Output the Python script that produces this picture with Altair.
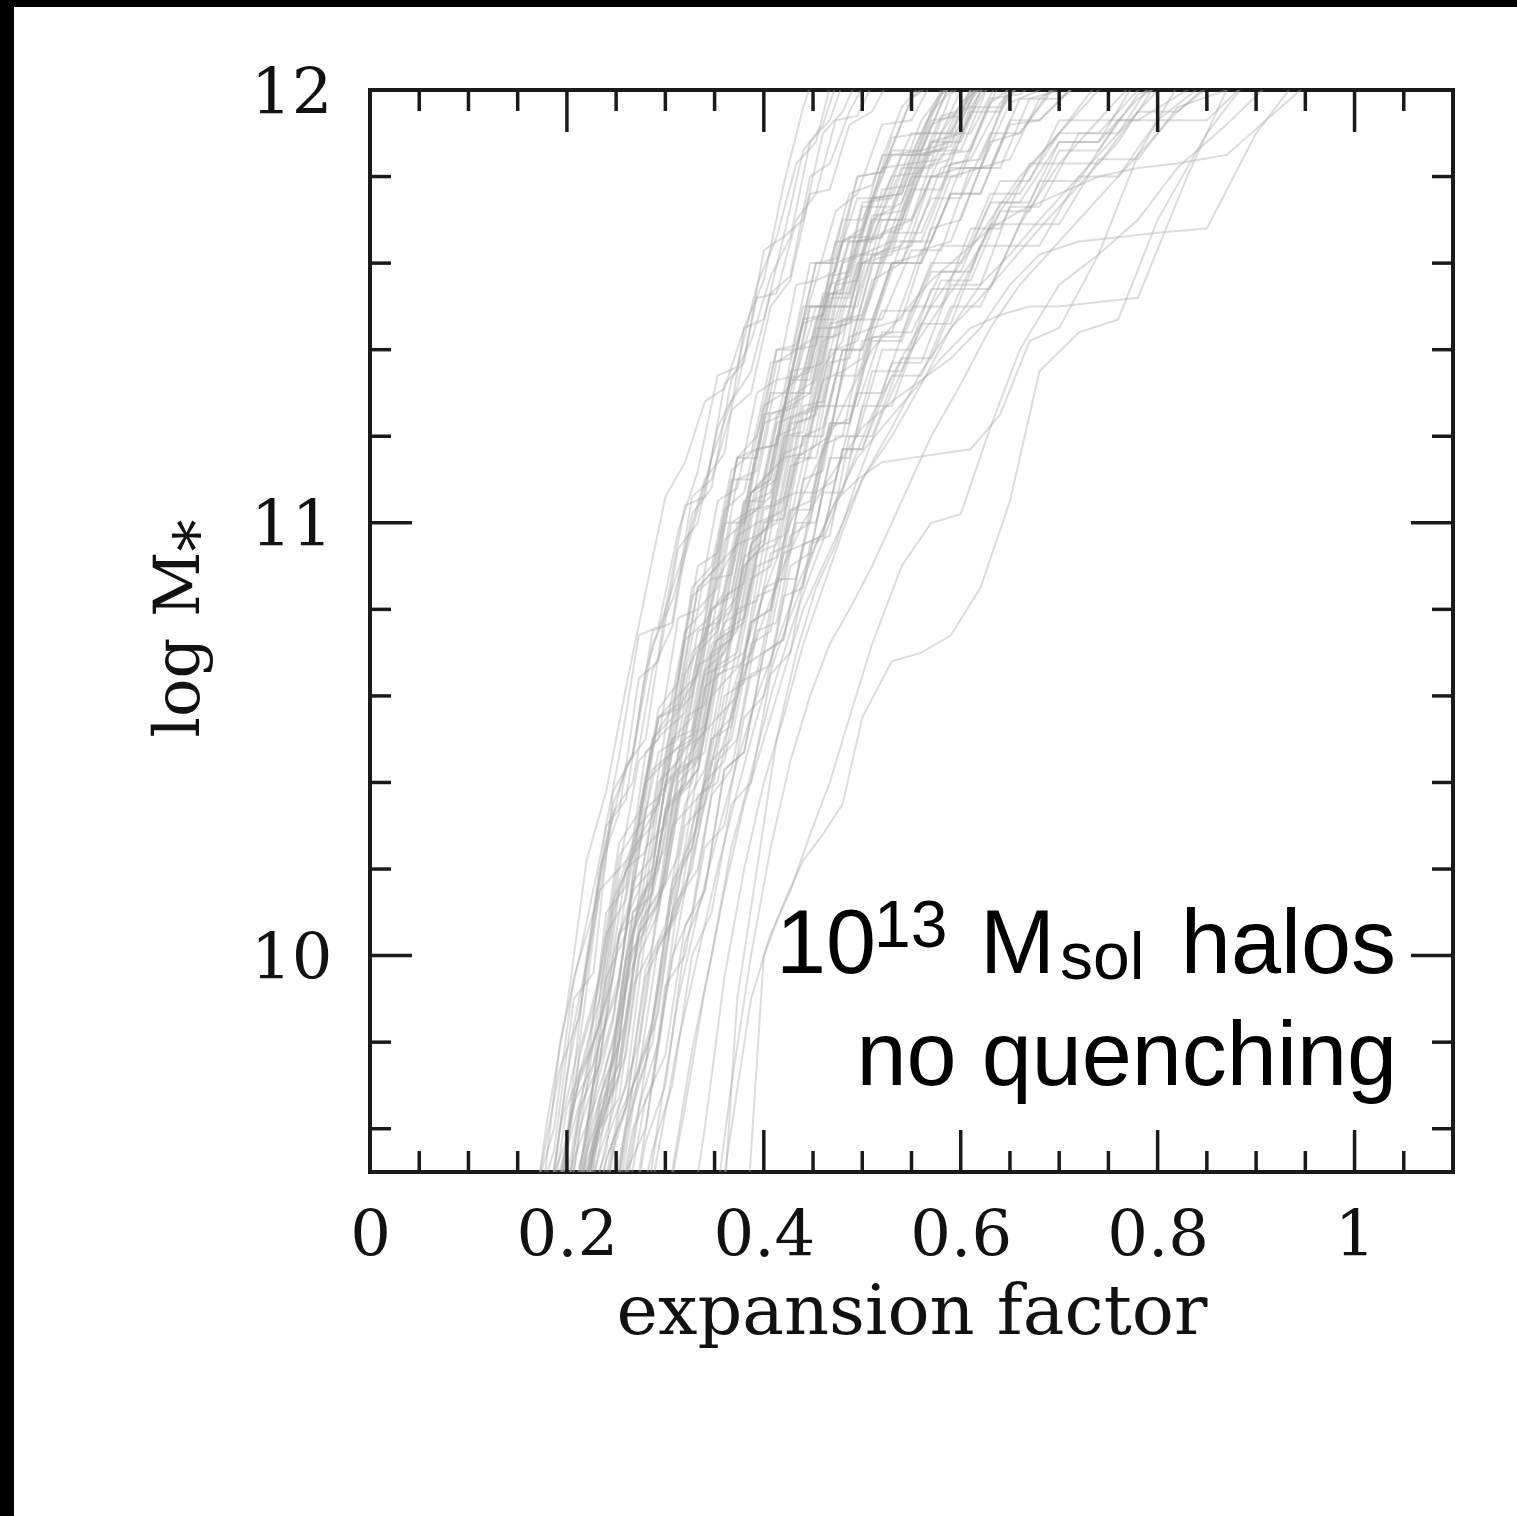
import altair as alt
import pandas as pd

# Snapshot expansion factors; tracks alternate between three output schedules
GRID_0 = [0.160, 0.180, 0.200, 0.220, 0.240, 0.260, 0.280, 0.300, 0.320, 0.340,
          0.360, 0.380, 0.400, 0.420, 0.440, 0.460, 0.480, 0.500, 0.530, 0.560,
          0.590, 0.620, 0.650, 0.680, 0.720, 0.760, 0.800, 0.850, 0.900, 0.950, 1.000]
GRID_1 = [0.167, 0.187, 0.207, 0.227, 0.247, 0.267, 0.287, 0.307, 0.327, 0.347,
          0.367, 0.387, 0.407, 0.427, 0.447, 0.467, 0.487, 0.510, 0.540, 0.570,
          0.600, 0.630, 0.660, 0.700, 0.740, 0.780, 0.820, 0.870, 0.920, 0.970, 1.020]
GRID_2 = [0.153, 0.173, 0.193, 0.213, 0.233, 0.253, 0.273, 0.293, 0.313, 0.333,
          0.353, 0.373, 0.393, 0.413, 0.433, 0.453, 0.473, 0.495, 0.520, 0.550,
          0.580, 0.610, 0.640, 0.670, 0.700, 0.740, 0.780, 0.830, 0.880, 0.930, 0.980]
GRIDS = [GRID_0, GRID_1, GRID_2]

# Each track: (index of its first snapshot, log M* at successive snapshots)
TRACKS = [
    # early risers
    (0, [9.3, 9.62, 9.88, 10.22, 10.38, 10.62, 10.84, 11.06, 11.14, 11.28, 11.31, 11.45, 11.56, 11.78, 11.96, 12.1]),
    (0, [9.35, 9.5, 9.84, 10.06, 10.33, 10.4, 10.66, 10.76, 11.02, 11.08, 11.33, 11.42, 11.57, 11.66, 11.88, 11.93, 12.06]),
    (1, [9.4, 9.8, 10.0, 10.22, 10.46, 10.74, 10.76, 10.98, 11.12, 11.34, 11.36, 11.55, 11.66, 11.83, 11.88, 12.06]),
    (1, [9.45, 9.58, 10.0, 10.26, 10.44, 10.5, 10.8, 10.94, 11.1, 11.16, 11.45, 11.47, 11.66, 11.7, 11.9, 11.95, 12.05]),
    (0, [9.4, 9.55, 9.9, 9.96, 10.38, 10.46, 10.72, 10.82, 10.98, 11.15, 11.28, 11.35, 11.53, 11.57, 11.8, 11.83, 11.95, 12.05]),
    (1, [9.5, 9.74, 9.86, 10.2, 10.33, 10.64, 10.68, 10.94, 11.0, 11.22, 11.31, 11.52, 11.53, 11.7, 11.76, 11.93, 11.94, 12.06]),
    (1, [9.38, 9.72, 9.96, 10.3, 10.36, 10.66, 10.8, 11.04, 11.06, 11.32, 11.37, 11.63, 11.66, 11.86, 11.92, 12.06]),
    (0, [9.45, 9.6, 9.95, 10.1, 10.35, 10.47, 10.75, 10.77, 11.06, 11.1, 11.26, 11.3, 11.5, 11.56, 11.76, 11.77, 11.92, 11.95, 12.08]),
    # main bundle
    (1, [9.3, 9.6, 9.8, 10.15, 10.2, 10.45, 10.5, 10.78, 10.8, 11.05, 11.08, 11.3, 11.33, 11.55, 11.56, 11.72, 11.76, 11.92, 11.93, 12.06]),
    (2, [9.4, 9.58, 9.95, 10.05, 10.34, 10.38, 10.65, 10.74, 10.96, 11.0, 11.25, 11.26, 11.46, 11.48, 11.65, 11.68, 11.89, 11.9, 12.03]),
    (2, [9.3, 9.55, 9.76, 10.1, 10.17, 10.4, 10.45, 10.7, 10.8, 11.03, 11.04, 11.27, 11.3, 11.52, 11.52, 11.7, 11.74, 11.92, 11.95, 12.06]),
    (1, [9.35, 9.46, 9.78, 9.95, 10.26, 10.33, 10.55, 10.58, 10.85, 10.9, 11.15, 11.15, 11.37, 11.4, 11.6, 11.61, 11.8, 11.81, 11.98, 12.03]),
    (2, [9.45, 9.74, 9.9, 10.2, 10.24, 10.52, 10.56, 10.77, 10.84, 11.05, 11.1, 11.3, 11.35, 11.52, 11.54, 11.74, 11.75, 11.93, 12.02]),
    (2, [9.35, 9.65, 9.8, 10.1, 10.14, 10.35, 10.4, 10.65, 10.73, 10.95, 11.0, 11.23, 11.24, 11.45, 11.46, 11.66, 11.68, 11.88, 11.9, 12.02, 12.05]),
    (2, [9.4, 9.5, 9.8, 9.93, 10.3, 10.35, 10.57, 10.65, 10.87, 10.95, 11.17, 11.18, 11.4, 11.41, 11.6, 11.62, 11.82, 11.83, 11.99, 12.04]),
    (2, [9.3, 9.52, 9.66, 9.99, 10.06, 10.34, 10.4, 10.62, 10.66, 10.9, 10.95, 11.2, 11.21, 11.42, 11.44, 11.6, 11.64, 11.82, 11.84, 12.0, 12.05]),
    (1, [9.4, 9.66, 9.75, 10.1, 10.25, 10.5, 10.55, 10.85, 10.9, 11.12, 11.16, 11.37, 11.38, 11.6, 11.6, 11.76, 11.78, 11.96, 12.04]),
    (2, [9.5, 9.72, 9.84, 10.17, 10.3, 10.55, 10.6, 10.85, 10.9, 11.15, 11.2, 11.4, 11.41, 11.56, 11.58, 11.8, 11.81, 11.98, 12.05]),
    (2, [9.3, 9.5, 9.62, 9.95, 10.1, 10.4, 10.45, 10.66, 10.7, 10.92, 10.96, 11.16, 11.18, 11.36, 11.42, 11.62, 11.65, 11.86, 11.88, 12.02]),
    (2, [9.38, 9.62, 9.77, 10.06, 10.15, 10.43, 10.5, 10.72, 10.75, 11.02, 11.06, 11.24, 11.26, 11.46, 11.47, 11.62, 11.64, 11.8, 11.82, 11.97, 12.02]),
    (3, [9.4, 9.67, 9.8, 10.13, 10.2, 10.47, 10.5, 10.77, 10.83, 11.07, 11.1, 11.3, 11.33, 11.55, 11.56, 11.77, 11.78, 11.94, 11.96, 12.06]),
    (3, [9.45, 9.75, 9.92, 10.25, 10.3, 10.55, 10.58, 10.83, 10.86, 11.1, 11.15, 11.35, 11.37, 11.6, 11.62, 11.8, 11.81, 11.99, 12.05]),
    (2, [9.25, 9.5, 9.64, 9.93, 10.02, 10.3, 10.35, 10.6, 10.65, 10.87, 10.9, 11.13, 11.15, 11.37, 11.38, 11.56, 11.6, 11.8, 11.8, 11.98, 11.99, 12.06]),
    (3, [9.3, 9.6, 9.72, 10.05, 10.12, 10.37, 10.43, 10.7, 10.75, 10.97, 11.0, 11.23, 11.25, 11.45, 11.47, 11.67, 11.7, 11.9, 11.9, 12.03, 12.05]),
    (1, [9.25, 9.55, 9.72, 10.1, 10.16, 10.47, 10.52, 10.75, 10.8, 11.03, 11.07, 11.27, 11.3, 11.5, 11.5, 11.7, 11.7, 11.85, 11.86, 12.02]),
    (2, [9.42, 9.7, 9.86, 10.15, 10.2, 10.5, 10.52, 10.8, 10.84, 11.07, 11.12, 11.35, 11.36, 11.55, 11.57, 11.75, 11.76, 11.93, 11.94, 12.04]),
    (3, [9.35, 9.63, 9.75, 10.07, 10.14, 10.43, 10.46, 10.73, 10.76, 11.0, 11.02, 11.25, 11.27, 11.5, 11.5, 11.7, 11.7, 11.85, 11.86, 12.02, 12.04]),
    (3, [9.42, 9.55, 9.93, 10.07, 10.33, 10.4, 10.65, 10.67, 10.9, 10.95, 11.15, 11.16, 11.33, 11.35, 11.6, 11.62, 11.85, 11.87, 12.03]),
    (2, [9.3, 9.57, 9.7, 10.05, 10.17, 10.41, 10.45, 10.7, 10.73, 10.95, 11.0, 11.2, 11.2, 11.4, 11.4, 11.6, 11.6, 11.75, 11.75, 11.9, 11.9, 12.02]),
    (3, [9.48, 9.8, 9.95, 10.27, 10.35, 10.6, 10.65, 10.9, 10.95, 11.17, 11.18, 11.4, 11.43, 11.65, 11.65, 11.85, 11.85, 12.0, 12.06]),
    (2, [9.32, 9.55, 9.67, 10.0, 10.15, 10.45, 10.5, 10.75, 10.8, 11.05, 11.05, 11.27, 11.3, 11.53, 11.53, 11.73, 11.73, 11.9, 11.9, 12.03]),
    (3, [9.3, 9.55, 9.7, 10.0, 10.07, 10.35, 10.4, 10.65, 10.7, 10.93, 10.95, 11.17, 11.2, 11.43, 11.45, 11.65, 11.65, 11.82, 11.82, 11.98, 11.98, 12.05]),
    (2, [9.45, 9.73, 9.9, 10.2, 10.25, 10.47, 10.5, 10.75, 10.77, 11.0, 11.03, 11.25, 11.27, 11.47, 11.47, 11.65, 11.66, 11.83, 11.84, 12.0, 12.04]),
    (1, [9.35, 9.65, 9.77, 10.05, 10.13, 10.4, 10.45, 10.73, 10.77, 11.0, 11.0, 11.23, 11.25, 11.47, 11.48, 11.65, 11.67, 11.86, 11.86, 12.02, 12.05]),
    (2, [9.5, 9.8, 9.95, 10.25, 10.3, 10.55, 10.6, 10.87, 10.88, 11.07, 11.1, 11.33, 11.33, 11.53, 11.53, 11.71, 11.72, 11.88, 11.88, 12.05]),
    (2, [9.28, 9.6, 9.75, 10.05, 10.1, 10.37, 10.43, 10.67, 10.7, 10.95, 10.97, 11.2, 11.22, 11.43, 11.43, 11.6, 11.6, 11.77, 11.77, 11.95, 11.95, 12.05]),
    (3, [9.38, 9.65, 9.77, 10.1, 10.17, 10.45, 10.52, 10.77, 10.8, 11.03, 11.05, 11.27, 11.28, 11.47, 11.48, 11.67, 11.67, 11.83, 11.84, 12.0, 12.03]),
    (1, [9.3, 9.53, 9.65, 10.0, 10.15, 10.43, 10.47, 10.7, 10.75, 11.0, 11.03, 11.25, 11.27, 11.5, 11.5, 11.66, 11.66, 11.82, 11.82, 11.97, 12.02]),
    (2, [9.35, 9.63, 9.8, 10.15, 10.27, 10.55, 10.57, 10.8, 10.85, 11.1, 11.12, 11.33, 11.34, 11.5, 11.5, 11.65, 11.66, 11.85, 11.86, 12.0, 12.04]),
    (3, [9.45, 9.7, 9.85, 10.15, 10.25, 10.5, 10.53, 10.75, 10.78, 11.0, 11.03, 11.25, 11.27, 11.47, 11.47, 11.65, 11.65, 11.82, 11.82, 11.97, 12.0, 12.05]),
    (2, [9.3, 9.55, 9.7, 10.07, 10.2, 10.5, 10.55, 10.8, 10.83, 11.07, 11.1, 11.33, 11.35, 11.57, 11.58, 11.75, 11.76, 11.95, 12.02]),
    (2, [9.4, 9.65, 9.75, 10.05, 10.15, 10.4, 10.45, 10.7, 10.75, 10.97, 11.0, 11.23, 11.25, 11.45, 11.45, 11.62, 11.62, 11.8, 11.8, 11.96, 11.96, 12.04]),
    (3, [9.35, 9.57, 9.7, 10.05, 10.17, 10.43, 10.47, 10.73, 10.77, 11.0, 11.01, 11.2, 11.22, 11.4, 11.4, 11.6, 11.6, 11.76, 11.76, 11.92, 11.93, 12.02]),
    (1, [9.4, 9.67, 9.8, 10.13, 10.23, 10.5, 10.57, 10.83, 10.87, 11.1, 11.1, 11.3, 11.3, 11.5, 11.5, 11.65, 11.65, 11.85, 11.85, 12.0, 12.05]),
    (2, [9.45, 9.77, 9.93, 10.23, 10.3, 10.57, 10.63, 10.9, 10.93, 11.15, 11.17, 11.4, 11.4, 11.6, 11.6, 11.75, 11.75, 11.9, 11.9, 12.0, 12.05]),
    (3, [9.3, 9.53, 9.65, 9.97, 10.07, 10.35, 10.43, 10.67, 10.7, 10.95, 10.97, 11.2, 11.2, 11.4, 11.4, 11.6, 11.6, 11.76, 11.76, 11.93, 11.93, 12.02]),
    (2, [9.38, 9.67, 9.85, 10.17, 10.23, 10.47, 10.5, 10.75, 10.8, 11.05, 11.07, 11.3, 11.3, 11.5, 11.5, 11.7, 11.7, 11.86, 11.86, 12.02, 12.05]),
    (4, [9.4, 9.65, 9.8, 10.13, 10.23, 10.5, 10.55, 10.8, 10.82, 11.05, 11.07, 11.27, 11.27, 11.47, 11.47, 11.63, 11.63, 11.82, 11.82, 11.98, 12.0, 12.05]),
    # slower growers
    (3, [9.3, 9.53, 9.65, 9.95, 10.05, 10.3, 10.35, 10.6, 10.63, 10.85, 10.87, 11.1, 11.12, 11.35, 11.38, 11.6, 11.62, 11.8, 11.82, 12.02]),
    (4, [9.4, 9.67, 9.8, 10.1, 10.2, 10.45, 10.5, 10.72, 10.75, 10.97, 11.0, 11.22, 11.24, 11.45, 11.47, 11.68, 11.7, 11.88, 11.9, 12.03]),
    (3, [9.35, 9.6, 9.67, 10.0, 10.1, 10.37, 10.43, 10.65, 10.67, 10.9, 10.92, 11.15, 11.18, 11.4, 11.42, 11.62, 11.64, 11.82, 11.84, 11.97, 12.04]),
    (4, [9.3, 9.6, 9.75, 10.05, 10.15, 10.4, 10.45, 10.67, 10.7, 10.93, 10.95, 11.18, 11.2, 11.42, 11.44, 11.63, 11.65, 11.82, 11.84, 11.98, 12.04]),
    (4, [9.45, 9.7, 9.83, 10.15, 10.25, 10.5, 10.53, 10.77, 10.8, 11.03, 11.05, 11.23, 11.23, 11.43, 11.43, 11.6, 11.6, 11.76, 11.76, 11.9, 11.9, 12.0, 12.04]),
    (5, [9.4, 9.65, 9.8, 10.13, 10.2, 10.45, 10.5, 10.75, 10.77, 11.0, 11.0, 11.2, 11.2, 11.4, 11.4, 11.56, 11.56, 11.72, 11.72, 11.86, 11.86, 11.99, 12.03]),
    (4, [9.25, 9.5, 9.6, 9.93, 10.0, 10.25, 10.3, 10.55, 10.6, 10.83, 10.85, 11.07, 11.07, 11.27, 11.27, 11.46, 11.46, 11.64, 11.64, 11.79, 11.79, 11.93, 11.93, 12.02]),
    (5, [9.35, 9.55, 9.7, 10.0, 10.1, 10.35, 10.4, 10.65, 10.7, 10.95, 10.97, 11.2, 11.2, 11.38, 11.38, 11.54, 11.54, 11.69, 11.69, 11.84, 11.84, 11.96, 12.0, 12.05]),
    (4, [9.35, 9.63, 9.73, 10.03, 10.1, 10.37, 10.4, 10.63, 10.65, 10.87, 10.87, 11.07, 11.1, 11.3, 11.3, 11.5, 11.5, 11.68, 11.68, 11.83, 11.83, 11.93, 11.93, 12.0, 12.05]),
    (5, [9.42, 9.67, 9.77, 10.07, 10.15, 10.43, 10.47, 10.7, 10.73, 10.95, 10.97, 11.17, 11.17, 11.34, 11.34, 11.5, 11.5, 11.64, 11.64, 11.8, 11.8, 11.93, 11.93, 12.04]),
    (4, [9.35, 9.6, 9.7, 10.0, 10.1, 10.37, 10.43, 10.65, 10.67, 10.9, 10.93, 11.15, 11.15, 11.35, 11.35, 11.54, 11.54, 11.69, 11.69, 11.83, 11.83, 11.95, 11.95, 12.04]),
    (3, [9.4, 9.65, 9.75, 10.05, 10.13, 10.4, 10.45, 10.67, 10.7, 10.93, 10.95, 11.15, 11.15, 11.34, 11.34, 11.49, 11.49, 11.64, 11.64, 11.79, 11.79, 11.93, 11.93, 12.03]),
    (5, [9.3, 9.57, 9.7, 10.03, 10.15, 10.43, 10.47, 10.7, 10.73, 10.95, 10.97, 11.17, 11.17, 11.37, 11.37, 11.55, 11.55, 11.73, 11.73, 11.9, 11.9, 12.04]),
    (4, [9.42, 9.7, 9.85, 10.17, 10.25, 10.5, 10.55, 10.77, 10.8, 11.03, 11.03, 11.23, 11.23, 11.42, 11.42, 11.58, 11.58, 11.74, 11.74, 11.88, 11.88, 12.03]),
    (5, [9.45, 9.73, 9.87, 10.2, 10.3, 10.55, 10.6, 10.83, 10.85, 11.07, 11.07, 11.27, 11.27, 11.44, 11.44, 11.58, 11.58, 11.74, 11.74, 11.88, 11.88, 11.98, 12.05]),
    # late starters and stragglers
    (11, [9.3, 10.0, 10.12, 10.22, 10.28, 10.35, 10.55, 10.68, 10.7, 10.74, 10.85, 11.05, 11.35, 11.44, 11.47, 11.7, 11.9, 12.05]),
    (9, [9.3, 9.6, 9.9, 10.05, 10.15, 10.28, 10.4, 10.55, 10.72, 10.9, 11.0, 11.02, 11.22, 11.4, 11.55, 11.62, 11.7, 11.82, 11.92, 12.03]),
    (6, [9.3, 9.55, 9.8, 10.0, 10.2, 10.38, 10.55, 10.7, 10.82, 10.95, 11.05, 11.1, 11.14, 11.15, 11.16, 11.17, 11.25, 11.42, 11.45, 11.62, 11.85, 12.05]),
    (5, [9.3, 9.6, 9.9, 10.15, 10.35, 10.5, 10.65, 10.78, 10.9, 11.0, 11.08, 11.15, 11.22, 11.28, 11.33, 11.38, 11.45, 11.55, 11.62, 11.65, 11.66, 11.67, 11.68, 11.9, 12.05]),
    (4, [9.3, 9.55, 9.85, 10.1, 10.3, 10.45, 10.6, 10.75, 10.88, 11.0, 11.1, 11.2, 11.3, 11.4, 11.48, 11.56, 11.62, 11.68, 11.72, 11.76, 11.8, 11.82, 11.83, 11.85, 11.95, 12.05]),
    (6, [9.3, 9.62, 9.9, 10.1, 10.28, 10.45, 10.6, 10.72, 10.85, 10.95, 11.05, 11.15, 11.22, 11.3, 11.38, 11.45, 11.48, 11.5, 11.5, 11.51, 11.52, 11.8, 12.05]),
    (8, [9.3, 9.6, 9.95, 10.2, 10.4, 10.55, 10.72, 10.85, 10.98, 11.1, 11.22, 11.35, 11.45, 11.52, 11.6, 11.68, 11.78, 11.88, 12.02]),
    (9, [9.35, 9.7, 10.0, 10.25, 10.45, 10.6, 10.72, 10.8, 10.9, 11.05, 11.2, 11.32, 11.45, 11.55, 11.65, 11.75, 11.85, 11.95, 12.05]),
    (10, [9.2, 9.9, 10.2, 10.5, 10.7, 10.85, 10.95, 11.1, 11.25, 11.4, 11.5, 11.6, 11.72, 11.82, 11.9, 12.02]),
    (7, [9.4, 9.65, 9.92, 10.15, 10.35, 10.5, 10.65, 10.8, 10.9, 11.0, 11.1, 11.2, 11.32, 11.45, 11.55, 11.62, 11.7, 11.8, 11.9, 12.0, 12.05]),
    (6, [9.3, 9.5, 9.78, 10.0, 10.25, 10.42, 10.6, 10.75, 10.88, 11.0, 11.12, 11.25, 11.38, 11.5, 11.6, 11.7, 11.8, 11.9, 12.0, 12.05]),
]

# Axis tick positions
X_LABELS = [0, 0.2, 0.4, 0.6, 0.8, 1.0]
X_MAJOR = [0.2, 0.4, 0.6, 0.8, 1.0]
X_MINOR = [0.05, 0.1, 0.15, 0.25, 0.3, 0.35, 0.45, 0.5, 0.55,
           0.65, 0.7, 0.75, 0.85, 0.9, 0.95, 1.05]
Y_LABELS = [10, 11, 12]
Y_MAJOR = [10, 11]
Y_MINOR = [9.6, 9.8, 10.2, 10.4, 10.6, 10.8, 11.2, 11.4, 11.6, 11.8]

X_DOMAIN = [0, 1.1]
Y_DOMAIN = [9.5, 12]

W, H = 1083, 1082
MAJOR_LEN, MINOR_LEN = 42, 21
SERIF = "DejaVu Serif"
SANS = "Liberation Sans"
INK = "#1a1a1a"

rows = []
for k, (start, masses) in enumerate(TRACKS):
    grid = GRIDS[k % 3]
    for j, m in enumerate(masses):
        rows.append({"track": k, "a": grid[start + j], "logm": m})
tracks_df = pd.DataFrame(rows)

xs = alt.Scale(domain=X_DOMAIN, nice=False, zero=False)
ys = alt.Scale(domain=Y_DOMAIN, nice=False, zero=False)

x_axis = alt.Axis(
    values=X_LABELS, format=".1~f", title="expansion factor",
    ticks=False, tickSize=0, domain=False, grid=False,
    labelFont=SERIF, labelFontSize=64, labelColor="#111111",
    labelPadding=32, labelFlush=False, labelOverlap=False,
    titleFont=SERIF, titleFontSize=70, titleFontWeight="normal",
    titleColor="#111111", titleX=541.5, titleY=161,
    titleBaseline="alphabetic", titleAlign="center",
)
y_axis = alt.Axis(
    values=Y_LABELS, format="d", title="log M\u204e",
    ticks=False, tickSize=0, domain=False, grid=False,
    labelFont=SERIF, labelFontSize=64, labelColor="#111111",
    labelPadding=38, labelFlush=False, labelOverlap=False, labelOffset=4,
    titleFont=SERIF, titleFontSize=64, titleFontWeight="normal",
    titleColor="#111111", titleAngle=270, titleX=-172, titleY=538,
    titleBaseline="alphabetic", titleAlign="center",
)

lines = alt.Chart(tracks_df).mark_line(
    color="#a8a8a8", opacity=0.4, strokeWidth=2, clip=True
).encode(
    x=alt.X("a:Q", scale=xs, axis=x_axis),
    y=alt.Y("logm:Q", scale=ys, axis=y_axis),
    detail="track:N",
)


def xticks(vals, length):
    df = pd.DataFrame({"a": vals})
    base = alt.Chart(df).mark_rule(color=INK, strokeWidth=3.5)
    bottom = base.encode(x=alt.X("a:Q", scale=xs, axis=x_axis),
                         y=alt.value(H), y2=alt.value(H - length))
    top = base.encode(x=alt.X("a:Q", scale=xs, axis=x_axis),
                      y=alt.value(0), y2=alt.value(length))
    return [bottom, top]


def yticks(vals, length):
    df = pd.DataFrame({"logm": vals})
    base = alt.Chart(df).mark_rule(color=INK, strokeWidth=3.5)
    left = base.encode(y=alt.Y("logm:Q", scale=ys, axis=y_axis),
                       x=alt.value(0), x2=alt.value(length))
    right = base.encode(y=alt.Y("logm:Q", scale=ys, axis=y_axis),
                        x=alt.value(W), x2=alt.value(W - length))
    return [left, right]


one = alt.Data(values=[{}])


def label(text, x, y, size, align="left", font=SANS):
    return alt.Chart(one).mark_text(
        text=text, font=font, fontSize=size, align=align,
        baseline="alphabetic", color="#000000",
    ).encode(x=alt.value(x), y=alt.value(y))


annotation = [
    label("10", 506, 883, 90, align="right"),
    label("13", 504, 857, 66),
    label("M", 610, 883, 90),
    label("sol", 690, 889, 66),
    label("halos", 1026, 883, 90, align="right"),
    label("no quenching", 1027, 995, 90, align="right"),
]

# dark bars along the top and left edges of the page
edge_left = alt.Chart(one).mark_rect(color="#000000").encode(
    x=alt.value(-370), x2=alt.value(-356), y=alt.value(-90), y2=alt.value(1426))
edge_top = alt.Chart(one).mark_rect(color="#000000").encode(
    x=alt.value(-370), x2=alt.value(1147), y=alt.value(-90), y2=alt.value(-83))

layers = [lines]
layers += xticks(X_MAJOR, MAJOR_LEN) + xticks(X_MINOR, MINOR_LEN)
layers += yticks(Y_MAJOR, MAJOR_LEN) + yticks(Y_MINOR, MINOR_LEN)
layers += annotation + [edge_left, edge_top]

chart = alt.layer(*layers).properties(
    width=W, height=H,
    padding={"left": 370, "top": 90, "right": 64, "bottom": 344},
    autosize=alt.AutoSizeParams(type="none"),
    background="#ffffff",
).configure_view(stroke=INK, strokeWidth=4)

chart.save("out.html", embed_options={"renderer": "svg", "actions": False})
